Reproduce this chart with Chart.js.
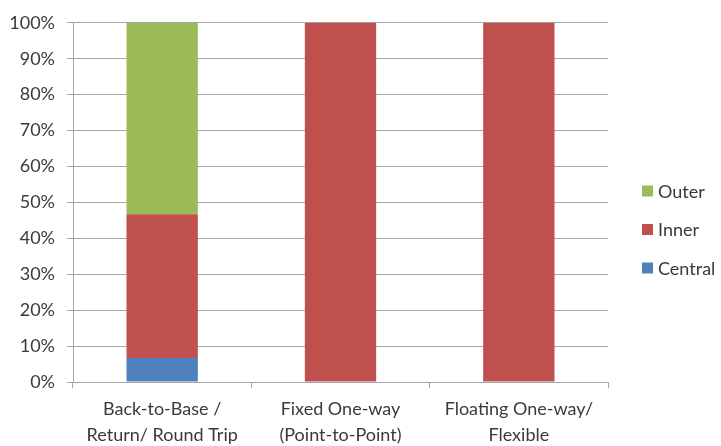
<!DOCTYPE html>
<html>
<head>
<meta charset="utf-8">
<script src="https://cdn.jsdelivr.net/npm/chart.js@4/dist/chart.umd.min.js"></script>
<style>
  html, body { margin: 0; padding: 0; background: #ffffff; }
  #wrap { width: 721px; height: 446px; }
</style>
</head>
<body>
<div id="wrap"><canvas id="c" width="721" height="446"></canvas></div>
<script>
// Trip types along the x axis (two-line labels)
const categories = [
  ['Back-to-Base /', 'Return/ Round Trip'],
  ['Fixed One-way', '(Point-to-Point)'],
  ['Floating One-way/', 'Flexible']
];
// Share of each zone within a trip type, in percent
const central = [6.67, 0, 0];
const inner   = [40.0, 100, 100];
const outer   = [53.33, 0, 0];
const yTicks  = [0, 10, 20, 30, 40, 50, 60, 70, 80, 90, 100];

const FONT = 'Lato, "Open Sans", sans-serif';
const TEXT = '#3a3a3a';

// Legend drawn at the right, top-to-bottom in reverse stacking order
const sideLegend = {
  id: 'sideLegend',
  afterDraw(chart) {
    const ctx = chart.ctx;
    const ds = chart.data.datasets.slice().reverse();
    const x = 642, y0 = 191, step = 38.5, box = 11;
    ctx.save();
    ctx.font = '18px ' + FONT;
    ctx.textBaseline = 'middle';
    ds.forEach((d, i) => {
      const y = y0 + i * step;
      ctx.fillStyle = d.backgroundColor;
      ctx.fillRect(x, y - box / 2, box, box);
      ctx.fillStyle = TEXT;
      ctx.fillText(d.label, x + 16, y + 1);
    });
    ctx.restore();
  }
};

new Chart(document.getElementById('c'), {
  type: 'bar',
  data: {
    labels: categories,
    datasets: [
      { label: 'Central', data: central, backgroundColor: '#4F81BD' },
      { label: 'Inner',   data: inner,   backgroundColor: '#C0504D' },
      { label: 'Outer',   data: outer,   backgroundColor: '#9BBB59' }
    ]
  },
  options: {
    responsive: false,
    animation: false,
    devicePixelRatio: 1,
    layout: { padding: { top: 22, right: 113, left: 0, bottom: 0 } },
    datasets: { bar: { categoryPercentage: 0.4, barPercentage: 1.0 } },
    plugins: {
      legend: { display: false },
      tooltip: { enabled: false }
    },
    scales: {
      x: {
        stacked: true,
        offset: true,
        grid: {
          offset: true,
          drawOnChartArea: false,
          drawTicks: true,
          tickLength: 6,
          color: '#a6a6a6'
        },
        border: { color: '#a6a6a6', width: 1 },
        ticks: {
          color: TEXT,
          font: { family: FONT, size: 18, lineHeight: 1.4 },
          padding: 9,
          maxRotation: 0,
          autoSkip: false
        },
        afterFit(scale) { scale.height = 64; }
      },
      y: {
        stacked: true,
        min: 0,
        max: 100,
        afterBuildTicks(scale) { scale.ticks = yTicks.map(v => ({ value: v })); },
        grid: {
          color: '#a6a6a6',
          tickLength: 6,
          lineWidth: 1
        },
        border: { color: '#a6a6a6', width: 1 },
        ticks: {
          color: TEXT,
          font: { family: FONT, size: 18 },
          padding: 12,
          callback: v => v + '%'
        },
        afterFit(scale) { scale.width = 73; }
      }
    }
  },
  plugins: [sideLegend]
});
</script>
</body>
</html>
